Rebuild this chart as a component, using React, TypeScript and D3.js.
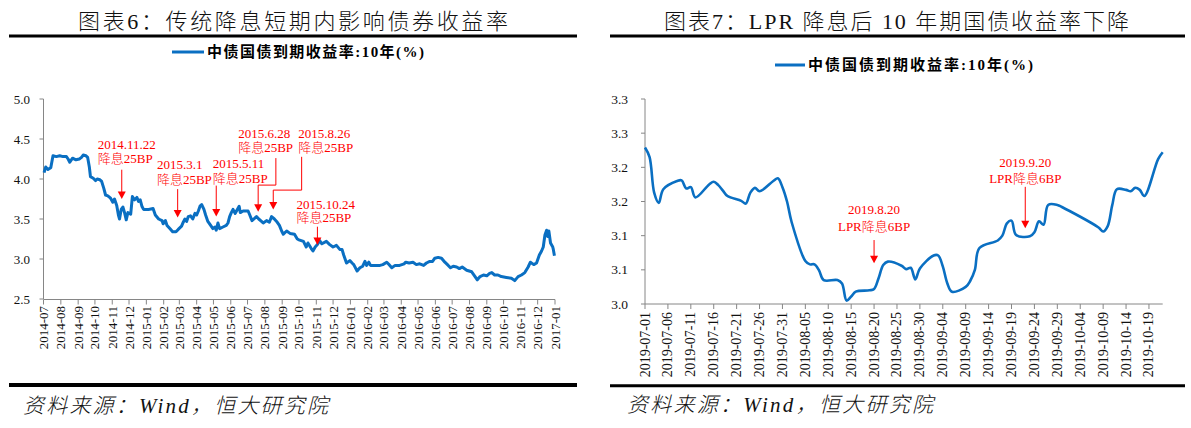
import React from "react";
import * as d3 from "d3";

// ---------------- Left chart data (中债国债到期收益率:10年, 2014-07 ~ 2016-12) ----------------
const leftDates = [
  "2014-07-02","2014-07-05","2014-07-09","2014-07-14","2014-07-18","2014-07-24","2014-07-30",
  "2014-08-05","2014-08-11","2014-08-14","2014-08-17","2014-08-22","2014-08-28",
  "2014-09-03","2014-09-07","2014-09-10","2014-09-15","2014-09-18","2014-09-21","2014-09-23","2014-09-28",
  "2014-10-02","2014-10-05","2014-10-10","2014-10-13","2014-10-17","2014-10-20","2014-10-24","2014-10-29",
  "2014-11-02","2014-11-05","2014-11-09","2014-11-12","2014-11-14","2014-11-17","2014-11-20","2014-11-23","2014-11-26","2014-11-29",
  "2014-12-04","2014-12-07","2014-12-11","2014-12-15","2014-12-18","2014-12-21","2014-12-24","2014-12-27",
  "2015-01-05","2015-01-13","2015-01-17","2015-01-23","2015-01-29","2015-01-31",
  "2015-02-04","2015-02-07","2015-02-12","2015-02-17","2015-02-23","2015-02-27",
  "2015-03-05","2015-03-08","2015-03-11","2015-03-14","2015-03-17","2015-03-21","2015-03-25","2015-03-29",
  "2015-04-01","2015-04-04","2015-04-07","2015-04-10","2015-04-14","2015-04-17","2015-04-21","2015-04-26","2015-04-30",
  "2015-05-04","2015-05-06","2015-05-09","2015-05-12","2015-05-18","2015-05-24","2015-05-27","2015-05-30",
  "2015-06-02","2015-06-05","2015-06-09","2015-06-12","2015-06-16","2015-06-18","2015-06-23",
  "2015-07-02","2015-07-05","2015-07-09","2015-07-14","2015-07-17","2015-07-21","2015-07-26","2015-07-29",
  "2015-08-04","2015-08-09","2015-08-13","2015-08-18","2015-08-22","2015-08-27","2015-08-31",
  "2015-09-03","2015-09-09","2015-09-15","2015-09-23","2015-09-28",
  "2015-10-01","2015-10-09","2015-10-14","2015-10-17","2015-10-23","2015-10-26","2015-10-30",
  "2015-11-03","2015-11-07","2015-11-11","2015-11-19","2015-11-25",
  "2015-12-01","2015-12-07","2015-12-13","2015-12-17","2015-12-20","2015-12-25","2015-12-31",
  "2016-01-04","2016-01-07","2016-01-13","2016-01-18","2016-01-23","2016-01-27","2016-01-30",
  "2016-02-03","2016-02-06","2016-02-14","2016-02-23","2016-02-28",
  "2016-03-06","2016-03-10","2016-03-15","2016-03-21","2016-03-29",
  "2016-04-06","2016-04-09","2016-04-15","2016-04-22","2016-04-28",
  "2016-05-04","2016-05-11","2016-05-16","2016-05-22","2016-05-27","2016-05-31",
  "2016-06-06","2016-06-12","2016-06-18","2016-06-24","2016-06-28",
  "2016-07-03","2016-07-09","2016-07-14","2016-07-19","2016-07-27",
  "2016-08-05","2016-08-11","2016-08-15","2016-08-20","2016-08-26",
  "2016-09-01","2016-09-06","2016-09-10","2016-09-15","2016-09-21","2016-09-27",
  "2016-10-06","2016-10-15","2016-10-21","2016-10-27",
  "2016-11-02","2016-11-08","2016-11-14","2016-11-18","2016-11-24","2016-11-29",
  "2016-12-04","2016-12-08","2016-12-11","2016-12-14","2016-12-17","2016-12-19","2016-12-21","2016-12-24","2016-12-28","2016-12-29","2016-12-31"
];
const leftYields = [
  4.08,4.15,4.12,4.14,4.29,4.28,4.29,
  4.28,4.28,4.25,4.21,4.26,4.24,
  4.25,4.27,4.30,4.29,4.27,4.15,4.03,4.01,
  3.98,4.00,3.99,3.97,3.88,3.80,3.79,3.76,
  3.71,3.75,3.67,3.55,3.50,3.62,3.65,3.58,3.49,3.58,
  3.56,3.78,3.74,3.77,3.72,3.74,3.66,3.62,
  3.62,3.63,3.55,3.50,3.48,3.44,
  3.48,3.42,3.38,3.34,3.34,3.37,
  3.41,3.46,3.50,3.47,3.53,3.54,3.50,3.57,
  3.55,3.60,3.66,3.68,3.62,3.55,3.47,3.42,3.38,
  3.40,3.36,3.45,3.38,3.40,3.42,3.45,3.53,
  3.58,3.62,3.57,3.61,3.66,3.58,3.60,
  3.60,3.55,3.48,3.51,3.53,3.50,3.47,3.45,
  3.48,3.46,3.53,3.50,3.47,3.42,3.35,
  3.31,3.35,3.32,3.31,3.25,
  3.24,3.22,3.15,3.20,3.13,3.10,3.15,
  3.18,3.23,3.19,3.22,3.18,
  3.15,3.17,3.12,3.12,3.05,2.95,2.98,
  2.95,2.93,2.85,2.89,2.91,2.97,2.92,
  2.96,2.92,2.92,2.92,2.93,
  2.96,2.93,2.89,2.92,2.92,
  2.94,2.96,2.95,2.96,2.93,
  2.94,2.92,2.95,2.97,2.97,3.01,
  3.02,3.01,2.96,2.92,2.89,
  2.91,2.90,2.88,2.90,2.86,
  2.84,2.78,2.74,2.78,2.80,
  2.79,2.82,2.83,2.80,2.80,2.78,
  2.77,2.76,2.73,2.78,
  2.80,2.83,2.90,2.96,2.93,2.95,
  3.05,3.10,3.15,3.30,3.36,3.28,3.35,3.20,3.15,3.12,3.04
];
const leftMonthTicks = [
  "2014-07","2014-08","2014-09","2014-10","2014-11","2014-12",
  "2015-01","2015-02","2015-03","2015-04","2015-05","2015-06","2015-07","2015-08","2015-09","2015-10","2015-11","2015-12",
  "2016-01","2016-02","2016-03","2016-04","2016-05","2016-06","2016-07","2016-08","2016-09","2016-10","2016-11","2016-12",
  "2017-01"
];
const leftYTicks = [5.0, 4.5, 4.0, 3.5, 3.0, 2.5];
const leftYTickLabels = ["5.0", "4.5", "4.0", "3.5", "3.0", "2.5"];
const leftNoteDates = ["2014-11-18", "2015-02-26", "2015-05-06", "2015-07-20", "2015-08-16", "2015-11-03"];
const leftNoteTips = [3.75, 3.52, 3.53, 3.59, 3.62, 3.175];
const leftNoteLabels = [
  ["2014.11.22", "降息25BP"],
  ["2015.3.1", "降息25BP"],
  ["2015.5.11", "降息25BP"],
  ["2015.6.28", "降息25BP"],
  ["2015.8.26", "降息25BP"],
  ["2015.10.24", "降息25BP"],
];

// ---------------- Right chart data (2019-07-01 ~ 2019-10-22) ----------------
const rightDates = [
  "2019-07-01","2019-07-02","2019-07-03","2019-07-04","2019-07-05","2019-07-08","2019-07-09","2019-07-10","2019-07-11","2019-07-12",
  "2019-07-15","2019-07-16","2019-07-17","2019-07-18","2019-07-19","2019-07-22","2019-07-23","2019-07-24","2019-07-25","2019-07-26",
  "2019-07-29","2019-07-30","2019-07-31","2019-08-01","2019-08-02","2019-08-05","2019-08-06","2019-08-07","2019-08-08","2019-08-09",
  "2019-08-12","2019-08-13","2019-08-14","2019-08-15","2019-08-16","2019-08-19","2019-08-20","2019-08-21","2019-08-22","2019-08-23",
  "2019-08-26","2019-08-27","2019-08-28","2019-08-29","2019-08-30","2019-09-02","2019-09-03","2019-09-04","2019-09-05","2019-09-06",
  "2019-09-09","2019-09-10","2019-09-11","2019-09-12","2019-09-16","2019-09-17","2019-09-18","2019-09-19","2019-09-20",
  "2019-09-23","2019-09-24","2019-09-25","2019-09-26","2019-09-27","2019-09-29","2019-09-30",
  "2019-10-08","2019-10-09","2019-10-10","2019-10-11","2019-10-12","2019-10-14","2019-10-15","2019-10-16","2019-10-17","2019-10-18",
  "2019-10-21","2019-10-22"
];
const rightYields = [
  3.229,3.215,3.163,3.148,3.168,3.180,3.181,3.169,3.171,3.156,
  3.175,3.179,3.174,3.166,3.158,3.151,3.147,3.163,3.170,3.165,
  3.180,3.184,3.171,3.150,3.120,3.063,3.058,3.058,3.049,3.035,
  3.035,3.030,3.005,3.011,3.018,3.020,3.022,3.038,3.057,3.062,
  3.056,3.051,3.053,3.036,3.052,3.071,3.071,3.055,3.030,3.018,
  3.025,3.034,3.050,3.082,3.093,3.100,3.118,3.122,3.101,
  3.099,3.105,3.121,3.116,3.145,3.145,3.142,
  3.112,3.106,3.114,3.145,3.168,3.167,3.165,3.170,3.167,3.158,
  3.212,3.222
];
const rightDayTicks = [
  "2019-07-01","2019-07-06","2019-07-11","2019-07-16","2019-07-21","2019-07-26","2019-07-31",
  "2019-08-05","2019-08-10","2019-08-15","2019-08-20","2019-08-25","2019-08-30",
  "2019-09-04","2019-09-09","2019-09-14","2019-09-19","2019-09-24","2019-09-29",
  "2019-10-04","2019-10-09","2019-10-14","2019-10-19"
];
const rightYTicks = [3.30, 3.25, 3.20, 3.15, 3.10, 3.05, 3.00];
const rightYTickLabels = ["3.3", "3.3", "3.2", "3.2", "3.1", "3.1", "3.0"];
const rightNoteDates = ["2019-08-20", "2019-09-22"];
const rightNoteTips = [3.0595, 3.111];
const rightNoteLabels = [
  ["2019.8.20", "LPR降息6BP"],
  ["2019.9.20", "LPR降息6BP"],
];

const TITLE_LEFT = "图表6：传统降息短期内影响债券收益率";
const TITLE_RIGHT = "图表7：LPR 降息后 10 年期国债收益率下降";
const LEGEND = "中债国债到期收益率:10年(%)";
const SOURCE = "资料来源：Wind，恒大研究院";

// ---------------- styling / layout ----------------
const FONT = "'Liberation Serif','Noto Sans CJK SC',serif";
const BLUE = "#0A6FC2";
const RED = "#FF0000";
const AXIS = "#868686";

// per-annotation text/arrow offsets (px relative to arrow tip)
const leftNoteLayout = [
  { dx: -24, l1: -54.3, l2: -40.3, top: -29.3 },
  { dx: -20.7, l1: -53.3, l2: -38.3, top: -28.3 },
  { dx: -3.4, l1: -53, l2: -38, top: -31 },
  { dx: -20, l1: -78.4, l2: -64.4, elbowX: 17.7, elbowTop: -53.7, elbowY: -26.7 },
  { dx: 25, l1: -76, l2: -62, elbowX: 28.4, elbowTop: -52.6, elbowY: -19.3 },
  { dx: -21, l1: -41, l2: -27.3, top: -18.3 },
];
const rightNoteLayout = [
  { l1: -54.3, l2: -37.3, top: -23.3 },
  { l1: -65.6, l2: -50, top: -41.3 },
];

function Arrowhead({ x, y }: { x: number; y: number }) {
  return <path d={`M${x - 4},${y - 7.5}L${x + 4},${y - 7.5}L${x},${y}Z`} fill={RED} />;
}

export default function App() {
  const parseDay = d3.timeParse("%Y-%m-%d");
  const parseMonth = d3.timeParse("%Y-%m");

  // left scales
  const lx = d3.scaleTime()
    .domain([parseDay("2014-07-01") as Date, parseDay("2017-01-01") as Date])
    .range([43.5, 555]);
  const ly = d3.scaleLinear().domain([2.5, 5.0]).range([299, 99]);
  const leftData = leftDates.map((d, i) => [parseDay(d) as Date, leftYields[i]] as [Date, number]);
  const leftLine = d3.line<[Date, number]>().x(d => lx(d[0])).y(d => ly(d[1]));

  // right scales
  const rx = d3.scaleTime()
    .domain([parseDay("2019-07-01") as Date, parseDay("2019-10-22") as Date])
    .range([645, 1162.7]);
  const ry = d3.scaleLinear().domain([3.0, 3.3]).range([304, 99]);
  const rightData = rightDates.map((d, i) => [parseDay(d) as Date, rightYields[i]] as [Date, number]);
  const rightLine = d3.line<[Date, number]>()
    .x(d => rx(d[0])).y(d => ry(d[1]))
    .curve(d3.curveCatmullRom.alpha(0.5));

  return (
    <svg
      width={1191}
      height={428}
      style={{ position: "absolute", left: 0, top: 0, display: "block", background: "#fff" }}
      fontFamily={FONT}
    >
      <rect x={0} y={0} width={1191} height={428} fill="#fff" />

      {/* ---------- titles ---------- */}
      <text x={78} y={21} fontSize={22} fontWeight={300} dominantBaseline="central" fill="#111"
        textLength={430} lengthAdjust="spacing">{TITLE_LEFT}</text>
      <text x={664} y={21} fontSize={22} fontWeight={300} dominantBaseline="central" fill="#111"
        textLength={465} lengthAdjust="spacing">{TITLE_RIGHT}</text>
      <line x1={9} x2={577} y1={36} y2={36} stroke="#000" strokeWidth={3} />
      <line x1={610} x2={1185} y1={36} y2={36} stroke="#000" strokeWidth={3} />

      {/* ---------- legends ---------- */}
      <line x1={172} x2={204} y1={52} y2={52} stroke={BLUE} strokeWidth={3} />
      <text x={207} y={52} fontSize={15} fontWeight={700} dominantBaseline="central" fill="#000"
        textLength={217} lengthAdjust="spacing">{LEGEND}</text>
      <line x1={775} x2={805} y1={65} y2={65} stroke={BLUE} strokeWidth={3} />
      <text x={808} y={65} fontSize={15} fontWeight={700} dominantBaseline="central" fill="#000"
        textLength={225} lengthAdjust="spacing">{LEGEND}</text>

      {/* ---------- left axes ---------- */}
      <g>
        <line x1={43.5} x2={43.5} y1={99} y2={299} stroke={AXIS} />
        <line x1={43.5} x2={555} y1={299.5} y2={299.5} stroke={AXIS} />
        {leftYTicks.map((v, i) => (
          <g key={"ly" + i}>
            <line x1={39.5} x2={43.5} y1={ly(v)} y2={ly(v)} stroke={AXIS} />
            <text x={30} y={ly(v)} fontSize={13} textAnchor="end" dominantBaseline="central" fill="#111">
              {leftYTickLabels[i]}
            </text>
          </g>
        ))}
        {leftMonthTicks.map(m => {
          const x = lx(parseMonth(m) as Date);
          return (
            <g key={"lx" + m}>
              <line x1={x} x2={x} y1={299.5} y2={304.5} stroke={AXIS} />
              <text transform={`translate(${x},306) rotate(-90)`} fontSize={13} textAnchor="end"
                dominantBaseline="central" fill="#111">{m}</text>
            </g>
          );
        })}
      </g>
      <path d={leftLine(leftData) || ""} fill="none" stroke={BLUE} strokeWidth={3} strokeLinejoin="round" />

      {/* left annotations */}
      {leftNoteDates.map((d, i) => {
        const ax = lx(parseDay(d) as Date);
        const ay = ly(leftNoteTips[i]);
        const L = leftNoteLayout[i] as any;
        const conn = L.elbowX !== undefined
          ? `M${ax + L.elbowX},${ay + L.elbowTop}V${ay + L.elbowY}H${ax}V${ay - 7}`
          : `M${ax},${ay + L.top}V${ay - 7}`;
        return (
          <g key={"ln" + i}>
            <path d={conn} fill="none" stroke={RED} strokeWidth={1} />
            <Arrowhead x={ax} y={ay} />
            <text x={ax + L.dx} y={ay + L.l1} fontSize={13} fontWeight={300} dominantBaseline="central" fill={RED}>
              {leftNoteLabels[i][0]}
            </text>
            <text x={ax + L.dx} y={ay + L.l2} fontSize={13} fontWeight={300} dominantBaseline="central" fill={RED}>
              {leftNoteLabels[i][1]}
            </text>
          </g>
        );
      })}

      {/* ---------- right axes ---------- */}
      <g>
        <line x1={645} x2={645} y1={99} y2={304} stroke={AXIS} />
        <line x1={645} x2={1162.7} y1={304} y2={304} stroke={AXIS} />
        {rightYTicks.map((v, i) => (
          <g key={"ry" + i}>
            <line x1={641} x2={645} y1={ry(v)} y2={ry(v)} stroke={AXIS} />
            <text x={628} y={ry(v)} fontSize={13.5} textAnchor="end" dominantBaseline="central" fill="#111">
              {rightYTickLabels[i]}
            </text>
          </g>
        ))}
        {rightDayTicks.map(t => {
          const x = rx(parseDay(t) as Date);
          return (
            <g key={"rx" + t}>
              <line x1={x} x2={x} y1={304} y2={309} stroke={AXIS} />
              <text transform={`translate(${x},312) rotate(-90)`} fontSize={14} textAnchor="end"
                dominantBaseline="central" fill="#111">{t}</text>
            </g>
          );
        })}
      </g>
      <path d={rightLine(rightData) || ""} fill="none" stroke={BLUE} strokeWidth={2.6} strokeLinejoin="round" />

      {/* right annotations */}
      {rightNoteDates.map((d, i) => {
        const ax = rx(parseDay(d) as Date);
        const ay = ry(rightNoteTips[i]);
        const L = rightNoteLayout[i];
        return (
          <g key={"rn" + i}>
            <path d={`M${ax},${ay + L.top}V${ay - 7}`} fill="none" stroke={RED} strokeWidth={1} />
            <Arrowhead x={ax} y={ay} />
            <text x={ax} y={ay + L.l1} fontSize={13} fontWeight={300} textAnchor="middle" dominantBaseline="central" fill={RED}>
              {rightNoteLabels[i][0]}
            </text>
            <text x={ax} y={ay + L.l2} fontSize={13} fontWeight={300} textAnchor="middle" dominantBaseline="central" fill={RED}>
              {rightNoteLabels[i][1]}
            </text>
          </g>
        );
      })}

      {/* ---------- bottom lines and sources ---------- */}
      <line x1={9} x2={577} y1={385} y2={385} stroke="#000" strokeWidth={4} />
      <line x1={610} x2={1185} y1={385.7} y2={385.7} stroke="#000" strokeWidth={3} />
      <text x={23} y={406} fontSize={21} fontWeight={300} fontStyle="italic" dominantBaseline="central" fill="#111"
        textLength={305} lengthAdjust="spacing">{SOURCE}</text>
      <text x={627} y={405} fontSize={21} fontWeight={300} fontStyle="italic" dominantBaseline="central" fill="#111"
        textLength={306} lengthAdjust="spacing">{SOURCE}</text>
    </svg>
  );
}
